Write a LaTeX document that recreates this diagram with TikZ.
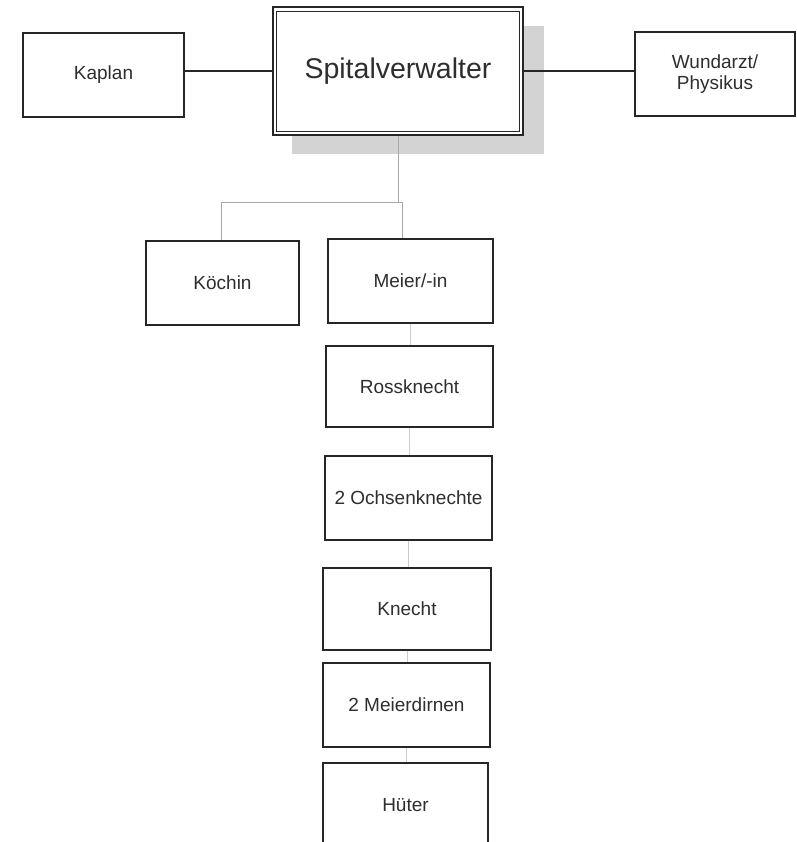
\documentclass[tikz,border=0pt]{standalone}
\usepackage{fontspec}
\setmainfont{Liberation Sans}
\begin{document}
\begin{tikzpicture}[x=1pt,y=-1pt,
  box/.style={draw=boxline, line width=1.3pt, fill=white, inner sep=2pt,
    align=center, text=labeltext, font=\fontsize{19}{21}\selectfont},
  mainlink/.style={draw=boxline, line width=1.1pt},
  treelink/.style={draw=treegray, line width=0.9pt},
  columnlink/.style={draw=colgray, line width=0.9pt}]
\definecolor{boxline}{HTML}{262626}
\definecolor{labeltext}{HTML}{2E2E2E}
\definecolor{treegray}{HTML}{A8A8A8}
\definecolor{colgray}{HTML}{CCCCCC}
\definecolor{shadowgray}{HTML}{D3D3D3}
\clip (0,0) rectangle (796,842);

% head of the hospital with its shadow
\node[box, minimum width=250pt, minimum height=128pt,
  font=\fontsize{28.5}{32}\selectfont, fill=none] (sv) at (398,71) {};
\fill[shadowgray] ([shift={(20pt,-20pt)}]sv.north west)
  rectangle ([shift={(20pt,-18pt)}]sv.south east);

% side offices
\node[box, minimum width=161pt, minimum height=84pt] (kaplan) at (103.5,75) {Kaplan};
\node[box, minimum width=160pt, minimum height=84pt] (wund) at (715,74) {Wundarzt/\\Physikus};

% staff
\node[box, minimum width=153pt, minimum height=84pt] (koechin) at (222.5,283) {Köchin};
\node[box, minimum width=165pt, minimum height=84pt] (meier) at (410.5,281) {Meier/-in};
\node[box, minimum width=167pt, minimum height=81pt] (ross) at (409.5,386.5) {Rossknecht};
\node[box, minimum width=167pt, minimum height=84pt] (ochsen) at (408.5,498) {2 Ochsenknechte};
\node[box, minimum width=168pt, minimum height=82pt] (knecht) at (407,609) {Knecht};
\node[box, minimum width=167pt, minimum height=84pt] (dirnen) at (406.5,705) {2 Meierdirnen};
\node[box, minimum width=165pt, minimum height=84pt] (hueter) at (405.5,805) {Hüter};

% connectors
\draw[mainlink] (sv.west) -- (sv.west -| kaplan.east);
\draw[mainlink] (sv.east) -- (sv.east -| wund.west);

\coordinate (jk) at (221,202);
\coordinate (jm) at (402,202);
\draw[treelink] (sv.south) -- (sv.south |- jm);
\draw[treelink] (jk) -- (jm);
\draw[treelink] (jk) -- (jk |- koechin.north);
\draw[treelink] (jm) -- (jm |- meier.north);

\draw[columnlink] (meier.south) -- (meier.south |- ross.north);
\draw[columnlink] (ross.south) -- (ross.south |- ochsen.north);
\draw[columnlink] (ochsen.south) -- (ochsen.south |- knecht.north);
\draw[columnlink] (knecht.south) -- (knecht.south |- dirnen.north);
\draw[columnlink] (dirnen.south) -- (dirnen.south |- hueter.north);

% double frame of the head box, drawn over the shadow
\node[box, minimum width=250pt, minimum height=128pt,
  font=\fontsize{28.5}{32}\selectfont] at (sv.center) {Spitalverwalter};
\draw[draw=boxline, line width=1.3pt] ([shift={(4pt,4pt)}]sv.south west)
  rectangle ([shift={(-4pt,-5pt)}]sv.north east);
\end{tikzpicture}
\end{document}
